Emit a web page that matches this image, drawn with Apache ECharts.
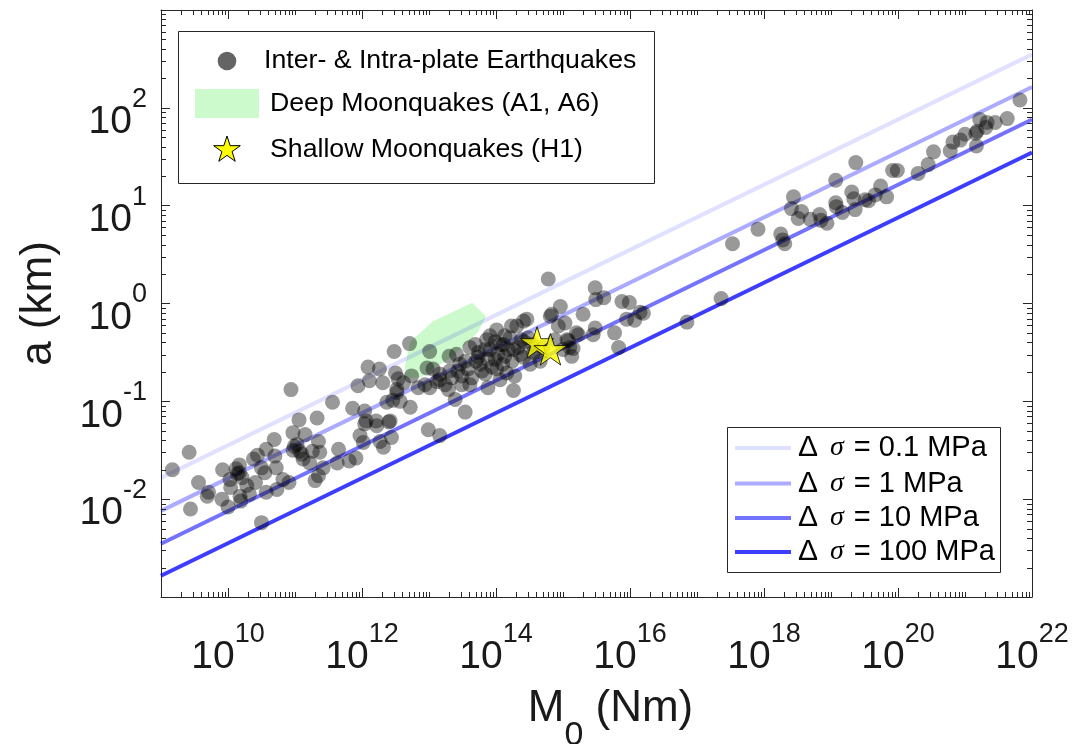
<!DOCTYPE html>
<html>
<head>
<meta charset="utf-8">
<script src="https://cdn.jsdelivr.net/npm/echarts@6.0.0/dist/echarts.min.js"></script>
<style>html,body{margin:0;padding:0;background:#fff}#chart{width:1088px;height:744px}</style>
</head>
<body>
<div id="chart"></div>
<script>
// ---------------- data ----------------
// axis ranges
const xRange = [1e9, 1e22];
const yRange = [1e-3, 1e3];
// exponents that carry tick labels
const xLabelExps = [10, 12, 14, 16, 18, 20, 22];
const yLabelExps = [-2, -1, 0, 1, 2];

// Inter- & intra-plate earthquakes as log10 values
const eqLog10M0 = [
  9.17, 9.42, 9.56, 9.69, 9.44, 9.71, 9.92, 9.91, 10.00, 10.03, 10.04, 10.14, 10.17, 10.17, 10.18, 10.19,
  10.28, 10.32, 10.38, 10.41, 10.44, 10.50, 10.50, 10.55, 10.57, 10.57, 10.69, 10.70, 10.72, 10.73, 10.82, 10.91,
  10.94, 10.97, 10.97, 11.03, 11.06, 11.10, 11.12, 11.15, 11.22, 11.26, 11.30, 11.33, 11.35, 11.35, 11.37, 11.42,
  11.56, 11.65, 11.63, 11.81, 11.86, 11.91, 11.94, 11.97, 12.02, 12.04, 12.06, 12.09, 12.11, 12.21, 12.22, 12.26,
  12.27, 12.31, 12.32, 12.40, 12.44, 12.46, 12.52, 12.48, 12.50, 12.54, 10.12, 10.21, 10.99, 11.07, 12.04,
  12.71, 13.01, 12.62, 12.74, 12.97, 12.84, 13.01, 12.52, 12.57, 12.72, 13.16, 13.06, 13.30, 13.41, 13.29, 13.39,
  13.54, 13.49, 13.54, 13.61, 13.69, 13.74, 13.76, 13.84, 13.86, 13.91, 13.99, 14.01, 14.11, 14.13, 14.16, 14.21,
  14.26, 14.28, 14.26, 14.31, 14.38, 14.41, 14.46, 14.51, 14.56, 14.81, 14.93, 14.96, 15.03, 15.06, 15.10, 15.20,
  15.13, 14.88, 14.01, 13.91,
  14.78, 14.83, 15.30, 15.48, 15.48, 15.23, 15.08, 15.45, 12.99, 13.16, 12.37, 12.42, 14.41, 14.23,
  15.49, 15.61, 15.88, 15.99, 15.95, 16.07, 16.15, 16.20, 15.77, 15.83, 16.85, 17.36, 15.15, 15.00,
  17.53, 17.91, 18.25, 18.28, 18.31, 18.44, 18.41, 18.51, 18.56, 18.69, 18.83, 18.85, 18.94, 19.07, 19.07, 19.08,
  19.17, 19.31, 19.34, 19.36, 19.37, 19.51, 19.56, 19.66, 19.74, 19.83, 19.92, 19.99, 20.30, 20.45, 20.53, 20.78,
  20.82, 20.93, 21.00, 21.16, 21.18, 21.17, 21.22, 21.31, 21.33, 21.45, 21.63, 21.82,
  13.16, 13.24, 13.34, 13.43, 13.49, 13.58, 13.64, 13.70, 13.79, 13.88, 13.94, 14.03, 14.06, 14.10, 14.18, 14.24,
  14.33, 14.36, 14.42, 14.48, 14.54, 14.60, 14.66, 14.13, 13.99, 13.84, 13.73, 13.61, 13.46, 13.31, 13.12, 12.94,
  14.70, 13.88, 14.06
];
const eqLog10A = [
  -1.70, -1.52, -1.83, -1.97, -2.10, -1.93, -1.70, -2.00, -2.08, -1.80, -1.88, -1.74, -1.65, -1.73, -1.97, -2.02,
  -1.86, -1.95, -1.59, -1.83, -1.55, -1.68, -2.24, -1.73, -1.49, -1.93, -1.39, -1.56, -1.68, -1.90, -1.80, -1.83,
  -0.88, -1.32, -1.50, -1.44, -1.19, -1.54, -1.59, -1.34, -1.63, -1.51, -1.81, -1.17, -1.41, -1.76, -1.52, -1.68,
  -1.01, -1.49, -1.63, -1.61, -1.07, -1.58, -0.84, -1.35, -1.42, -1.10, -1.20, -0.65, -0.79, -1.20, -1.25, -0.67,
  -1.41, -0.81, -1.47, -1.21, -1.37, -0.99, -0.91, -0.49, -0.71, -0.77, -1.69, -1.78, -1.46, -1.51, -1.23,
  -0.41, -0.49, -0.81, -0.74, -0.66, -0.86, -0.86, -0.88, -1.00, -1.06, -0.72, -0.67, -0.54, -0.52, -0.88, -0.98,
  -1.11, -0.74, -0.59, -0.83, -0.42, -0.50, -0.62, -0.72, -0.37, -0.47, -0.57, -0.67, -0.42, -0.54, -0.71, -0.35,
  -0.47, -0.74, -0.89, -0.23, -0.37, -0.55, -0.16, -0.62, -0.50, -0.13, -0.23, -0.03, -0.20, -0.37, -0.45, -0.30,
  -0.54, -0.37, -0.27, -0.33,
  0.25, -0.11, -0.11, 0.16, -0.25, -0.32, -0.38, -0.32, -1.29, -1.35, -1.01, -1.20, -0.18, -0.23,
  0.04, 0.06, 0.02, 0.01, -0.16, -0.17, -0.09, -0.10, -0.30, -0.45, -0.19, 0.05, -0.46, -0.47,
  0.61, 0.76, 0.71, 0.65, 0.61, 1.09, 0.97, 0.87, 0.94, 0.86, 0.91, 0.85, 0.82, 1.26, 1.03, 0.99,
  0.93, 1.14, 1.07, 0.96, 1.44, 1.06, 1.05, 1.11, 1.20, 1.09, 1.36, 1.36, 1.33, 1.42, 1.55, 1.56,
  1.65, 1.67, 1.73, 1.74, 1.76, 1.61, 1.88, 1.80, 1.85, 1.85, 1.89, 2.08,
  -0.78, -0.83, -0.76, -0.69, -0.83, -0.67, -0.76, -0.59, -0.69, -0.57, -0.65, -0.52, -0.42, -0.62, -0.47, -0.59,
  -0.45, -0.52, -0.39, -0.35, -0.42, -0.49, -0.59, -0.33, -0.39, -0.47, -0.55, -0.45, -0.62, -0.69, -0.80, -0.83,
  -0.45, -0.86, -0.78
];

// Shallow moonquakes (H1)
const shallowM0 = [4.1e14, 6.5e14];
const shallowA = [0.40, 0.34];

// Deep moonquakes (A1, A6) region outline
const deepM0 = [4.4e12, 4.4e12, 5.25e12, 1.15e13, 4.4e13, 7.1e13, 5.4e13, 2.45e13, 7.4e12];
const deepA = [0.174, 0.234, 0.407, 0.66, 1.02, 0.74, 0.51, 0.30, 0.174];

// constant stress-drop lines (end points)
const stressDropMPa = ['0.1', '1', '10', '100'];
const lineM0 = [1e9, 1e22];
const lineA = [[0.0165, 352], [0.0076, 163], [0.0035, 76], [0.00165, 35]];

// ---------------- styles ----------------
const FONT = 'Liberation Sans';
const AXIS_COLOR = '#262626';
const TEXT_COLOR = '#1a1a1a';
const lineColors = ['rgba(0,0,255,0.12)', 'rgba(0,0,255,0.33)', 'rgba(0,0,255,0.55)', 'rgba(0,0,255,0.76)'];
const dotColor = 'rgba(0,0,0,0.5)';
const greenFill = 'rgba(0,230,0,0.2)';

function starPath() {
  const pts = [];
  for (let i = 0; i < 10; i++) {
    const ang = -Math.PI / 2 + i * Math.PI / 5;
    const r = i % 2 === 0 ? 1 : 0.382;
    pts.push((r * Math.cos(ang)).toFixed(4) + ' ' + (r * Math.sin(ang)).toFixed(4));
  }
  return 'path://M' + pts.join(' L') + ' Z';
}
function starPoints(cx, cy, R) {
  const pts = [];
  for (let i = 0; i < 10; i++) {
    const ang = -Math.PI / 2 + i * Math.PI / 5;
    const r = (i % 2 === 0 ? 1 : 0.382) * R;
    pts.push([cx + r * Math.cos(ang), cy + r * Math.sin(ang)]);
  }
  return pts;
}

const expOf = v => Math.round(Math.log10(v));
const supRich = {
  b: { fontFamily: FONT, fontSize: 39, color: TEXT_COLOR, lineHeight: 56, verticalAlign: 'bottom' },
  s: { fontFamily: FONT, fontSize: 27, color: TEXT_COLOR, lineHeight: 22, verticalAlign: 'top' }
};

const eqData = eqLog10M0.map((e, i) => [Math.pow(10, e), Math.pow(10, eqLog10A[i])]);
const starData = shallowM0.map((m, i) => [m, shallowA[i]]);
const deepData = deepM0.map((m, i) => [m, deepA[i]]);

const baseAxis = {
  type: 'log', logBase: 10,
  axisLine: { show: true, onZero: false, lineStyle: { color: AXIS_COLOR, width: 1 } },
  axisTick: { show: true, inside: true, length: 9, lineStyle: { color: AXIS_COLOR, width: 1 } },
  splitLine: { show: false },
  minorTick: { show: false },
  minorSplitLine: { show: false }
};

const chart = echarts.init(document.getElementById('chart'), null, { renderer: 'canvas' });

const option = {
  animation: false,
  backgroundColor: '#ffffff',
  grid: { left: 161, right: 56, top: 10, bottom: 147, outerBoundsMode: 'none', containLabel: false },
  xAxis: [
    Object.assign({}, baseAxis, {
      position: 'bottom', min: xRange[0], max: xRange[1], interval: 1,
      axisTick: { show: false },
      axisLabel: {
        margin: 24,
        formatter: v => xLabelExps.includes(expOf(v)) ? '{b|10}{s|' + expOf(v) + '}' : '',
        rich: supRich
      },
      name: '{m|M}{sub|0}{m| (Nm)}', nameLocation: 'middle', nameGap: 90,
      nameTextStyle: {
        padding: [0, 0, 0, 28],
        rich: {
          m: { fontFamily: FONT, fontSize: 44, color: TEXT_COLOR, lineHeight: 40, verticalAlign: 'top' },
          sub: { fontFamily: FONT, fontSize: 34, color: TEXT_COLOR, lineHeight: 66, verticalAlign: 'bottom' }
        }
      }
    }),
    Object.assign({}, baseAxis, {
      position: 'top', min: xRange[0], max: xRange[1], interval: 1,
      axisTick: { show: false },
      axisLabel: { show: false }
    })
  ],
  yAxis: [
    Object.assign({}, baseAxis, {
      position: 'left', min: yRange[0], max: yRange[1], interval: 1,
      axisLabel: {
        margin: 14, padding: [12, 0, 0, 0],
        formatter: v => yLabelExps.includes(expOf(v)) ? '{b|10}{s|' + expOf(v) + '}' : '',
        rich: supRich
      },
      name: 'a (km)', nameLocation: 'middle', nameGap: 100,
      nameTextStyle: { fontFamily: FONT, fontSize: 44, color: TEXT_COLOR }
    }),
    Object.assign({}, baseAxis, {
      position: 'right', min: yRange[0], max: yRange[1], interval: 1,
      axisLabel: { show: false }
    })
  ],
  series: [
    {
      type: 'custom', name: 'Deep Moonquakes (A1, A6)', silent: true, z: 1,
      data: deepData,
      renderItem: function (params, api) {
        if (params.dataIndex !== 0) return null;
        const pts = deepData.map(p => api.coord(p));
        return { type: 'polygon', shape: { points: pts }, style: { fill: greenFill, stroke: null } };
      }
    },
    ...lineA.map((ends, i) => ({
      type: 'line', name: '\u0394\u03c3 = ' + stressDropMPa[i] + ' MPa', silent: true, z: 2,
      symbol: 'none', data: [[lineM0[0], ends[0]], [lineM0[1], ends[1]]],
      lineStyle: { color: lineColors[i], width: 4 }
    })),
    {
      type: 'scatter', name: 'Inter- & Intra-plate Earthquakes', z: 3, silent: true,
      symbol: 'circle', symbolSize: 15, data: eqData,
      itemStyle: { color: dotColor, borderWidth: 0 }
    },
    {
      type: 'scatter', name: 'Shallow Moonquakes (H1)', z: 4, silent: true,
      symbol: starPath(), symbolKeepAspect: true, symbolSize: 33, data: starData,
      itemStyle: { color: '#ffff00', borderColor: '#000000', borderWidth: 1 }
    }
  ]
};
chart.setOption(option);

// ---- x ticks (majors at labelled decades, MATLAB-style minors) and y minors, legends ----
const g = [];
const gridRect = chart.getModel().getComponent('grid', 0).coordinateSystem.getRect();
const L = gridRect.x, R = gridRect.x + gridRect.width, T = gridRect.y, B = gridRect.y + gridRect.height;
const tickStyle = { stroke: AXIS_COLOR, lineWidth: 1 };
for (let k = 9; k <= 22; k++) {
  for (let m = 1; m <= 9; m++) {
    if (k === 22 && m > 1) break;
    const px = Math.round(chart.convertToPixel({ xAxisIndex: 0 }, m * Math.pow(10, k))) + 0.5;
    const len = (m === 1 && xLabelExps.includes(k)) ? 9 : 5;
    g.push({ type: 'line', silent: true, shape: { x1: px, y1: B, x2: px, y2: B - len }, style: tickStyle, z: 10 });
    g.push({ type: 'line', silent: true, shape: { x1: px, y1: T, x2: px, y2: T + len }, style: tickStyle, z: 10 });
  }
}
for (let k = -3; k < 3; k++) {
  for (let m = 2; m <= 9; m++) {
    const py = Math.round(chart.convertToPixel({ yAxisIndex: 0 }, m * Math.pow(10, k))) + 0.5;
    g.push({ type: 'line', silent: true, shape: { x1: L, y1: py, x2: L + 5, y2: py }, style: tickStyle, z: 10 });
    g.push({ type: 'line', silent: true, shape: { x1: R, y1: py, x2: R - 5, y2: py }, style: tickStyle, z: 10 });
  }
}

// legend 1 (markers)
const leg1Font = '26.7px "Liberation Sans"';
g.push({ type: 'rect', silent: true, z: 20, shape: { x: 178.5, y: 31.5, width: 476, height: 152 },
  style: { fill: '#ffffff', stroke: AXIS_COLOR, lineWidth: 1 } });
g.push({ type: 'circle', silent: true, z: 21, shape: { cx: 227, cy: 61, r: 9.3 }, style: { fill: '#646464' } });
g.push({ type: 'text', silent: true, z: 21, x: 264, y: 61,
  style: { text: 'Inter- & Intra-plate Earthquakes', font: leg1Font, fill: '#000', verticalAlign: 'middle', align: 'left' } });
g.push({ type: 'rect', silent: true, z: 21, shape: { x: 195, y: 89, width: 64, height: 29 }, style: { fill: '#ccfacc' } });
g.push({ type: 'text', silent: true, z: 21, x: 270, y: 104,
  style: { text: 'Deep Moonquakes (A1, A6)', font: leg1Font, fill: '#000', verticalAlign: 'middle', align: 'left' } });
g.push({ type: 'polygon', silent: true, z: 21, shape: { points: starPoints(227, 150, 14) },
  style: { fill: '#ffff00', stroke: '#000', lineWidth: 1 } });
g.push({ type: 'text', silent: true, z: 21, x: 270, y: 150,
  style: { text: 'Shallow Moonquakes (H1)', font: leg1Font, fill: '#000', verticalAlign: 'middle', align: 'left' } });

// legend 2 (stress-drop lines)
g.push({ type: 'rect', silent: true, z: 20, shape: { x: 727.5, y: 427.5, width: 273, height: 145 },
  style: { fill: '#ffffff', stroke: AXIS_COLOR, lineWidth: 1 } });
const rowsY = [448, 483.5, 518, 552];
stressDropMPa.forEach((lab, i) => {
  g.push({ type: 'line', silent: true, z: 21, shape: { x1: 735, y1: rowsY[i], x2: 791, y2: rowsY[i] },
    style: { stroke: lineColors[i], lineWidth: 4 } });
  g.push({ type: 'text', silent: true, z: 21, x: 798, y: rowsY[i],
    style: {
      text: '{d|\u0394}{i|\u03c3}{n|= ' + lab + ' MPa}',
      verticalAlign: 'middle', align: 'left',
      rich: {
        d: { fontFamily: FONT, fontSize: 30, fill: '#000', padding: [0, 12, 0, 0] },
        i: { fontFamily: 'Liberation Serif', fontStyle: 'italic', fontSize: 28, fill: '#000', padding: [0, 10, 0, 0] },
        n: { fontFamily: FONT, fontSize: 29, fill: '#000' }
      }
    } });
});

chart.setOption({ graphic: { elements: g } });
</script>
</body>
</html>
